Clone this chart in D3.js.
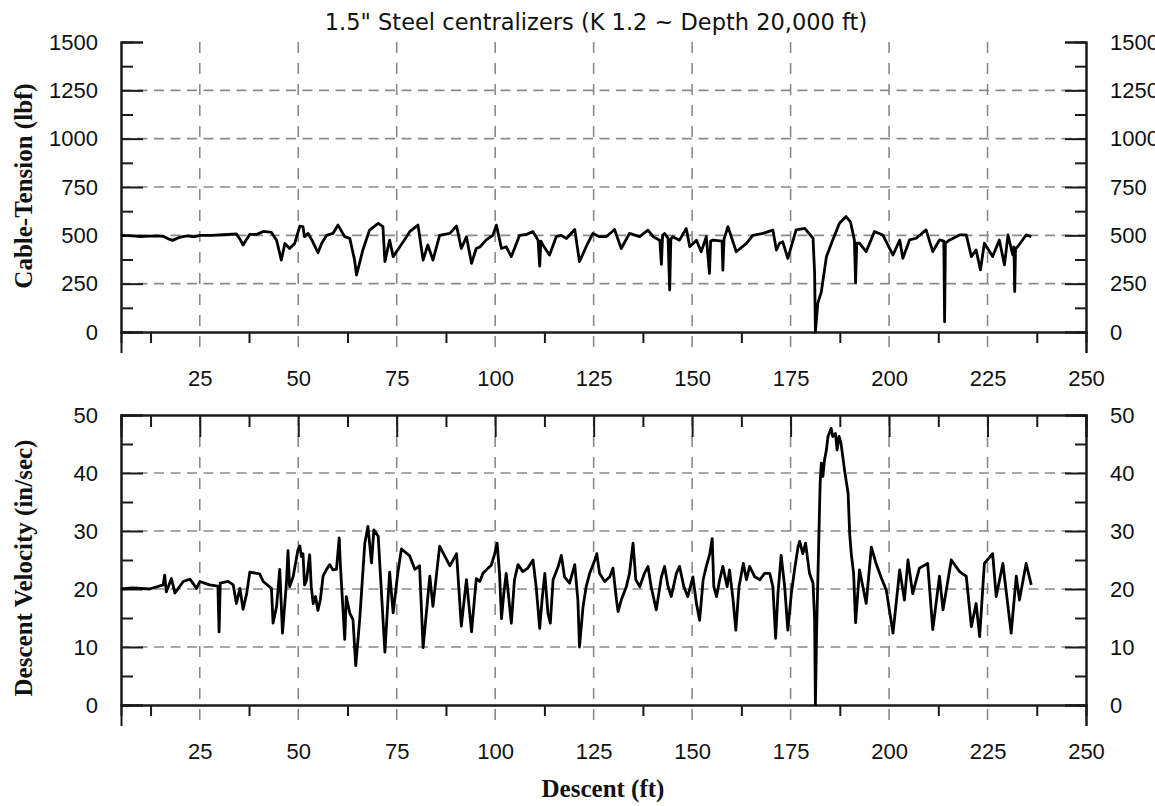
<!DOCTYPE html>
<html lang="en">
<head>
<meta charset="utf-8">
<script src="https://d3js.org/d3.v7.min.js"></script>
<style>
  body { margin: 0; background: #fff; }
  svg text { fill: #111; }
  .num { font-family: "Liberation Sans", Arial, sans-serif; font-size: 22px; }
  .atitle { font-family: "Liberation Serif", "Times New Roman", serif; font-weight: bold; font-size: 25px; }
  .title { font-family: "DejaVu Sans", Tahoma, sans-serif; font-size: 22.5px; }
</style>
</head>
<body>
<div id="chart"></div>
<script>
// axis ticks
var descentTicks = [25, 50, 75, 100, 125, 150, 175, 200, 225, 250];
var descentMinor = [12.5, 37.5, 62.5, 87.5, 112.5, 137.5, 162.5, 187.5, 212.5, 237.5];
var tensionTicks = [0, 250, 500, 750, 1000, 1250, 1500];
var tensionMinor = [125, 375, 625, 875, 1125, 1375];
var velocityTicks = [0, 10, 20, 30, 40, 50];
var velocityMinor = [5, 15, 25, 35, 45];

// [descent ft, cable tension lbf]
var tensionPoints = [[5,500],[8,497],[10,494],[12,496],[14,497],[15.7,495],[17,482],[18.1,474],[19.9,490],[21,495],[22,497],[23.5,492],[25,500],[28,500],[31,503],[34.3,507],[35.2,480],[36,450],[37.7,505],[39.5,505],[41.1,520],[43.2,515],[44.5,475],[45.7,372],[46.6,458],[47.8,432],[49.1,458],[50.4,548],[51.2,545],[51.6,493],[52.5,510],[53.6,470],[55,410],[56,460],[57.2,500],[58.8,510],[60.1,553],[61.8,493],[63.1,484],[64.3,372],[64.8,295],[66.4,424],[68.1,527],[70.3,562],[71.5,545],[72,364],[73.2,475],[74.1,390],[75.8,441],[77.5,493],[78.3,519],[80.4,553],[81.7,372],[82.9,450],[84.2,372],[85.9,500],[88.5,510],[90.2,548],[91.4,432],[92.7,493],[94,355],[95.2,432],[96.1,440],[97.8,478],[99.4,500],[100.3,553],[101.6,432],[102.8,441],[104.1,390],[106.2,500],[108,505],[109.6,519],[110.9,475],[111.3,341],[111.6,470],[112.1,450],[113.8,398],[115.5,493],[116.8,500],[118.1,484],[120.2,530],[121.4,364],[123.1,441],[124.8,510],[126.5,493],[128.2,493],[130.3,530],[132,432],[134.1,510],[136.7,493],[138.8,527],[140.1,493],[141.8,475],[142.2,350],[142.5,500],[143,510],[143.9,484],[144.3,217],[144.6,480],[145.1,493],[146.8,475],[148.5,536],[149.4,441],[151.1,475],[152.3,415],[153.6,493],[154.4,303],[154.7,470],[155.3,475],[157.6,470],[157.8,320],[158.1,480],[159.1,545],[161.2,415],[163.8,458],[165.4,500],[168,510],[170.5,527],[171.4,424],[172.2,459],[173,467],[174.3,381],[176.4,528],[178.6,536],[180.7,485],[181.1,303],[181.3,0],[181.9,148],[182.8,208],[184.1,390],[185.7,476],[187.4,562],[189.1,597],[190.2,570],[191.2,475],[191.5,255],[191.8,460],[192.5,459],[194.2,416],[196.3,519],[198.4,502],[201,398],[202.7,476],[203.5,381],[205.2,476],[206.9,485],[209.4,528],[211.1,416],[212.8,476],[213.9,470],[214.1,53],[214.3,460],[215.4,476],[217.9,502],[219.6,502],[220.9,390],[222.1,424],[223.2,321],[224.2,459],[226.3,390],[228,476],[229.3,347],[230.2,502],[231.4,398],[231.7,440],[231.9,209],[232.1,430],[232.7,442],[234.8,502],[236.1,493]];

// [descent ft, descent velocity in/sec]
var velocityPoints = [[5,20],[8,20.2],[12.3,20],[15.7,20.7],[16.1,22.4],[16.5,19.5],[17.8,21.8],[18.7,19.3],[20.8,21.3],[22.5,21.7],[24.2,20.1],[25,21.3],[27.5,20.7],[29.6,20.5],[29.9,12.6],[30.2,21],[32.2,21.3],[33.5,20.7],[34.3,17.5],[35.2,20.1],[36,16.5],[36.9,19.2],[37.7,22.9],[40.2,22.6],[41.1,21.3],[43.2,20.1],[43.6,14.1],[44.5,17],[45.3,23.4],[46,12.4],[47,21],[47.4,26.6],[47.8,20.4],[48.7,22.1],[49.9,26.7],[50.4,27.4],[50.8,25.6],[51.2,26.1],[51.6,20.7],[52.1,21.5],[52.9,25.9],[53.3,20.4],[53.8,17.5],[54.4,18.7],[55,16.3],[55.6,18.1],[56.3,22.2],[57.1,23.3],[58,24.2],[58.8,23.3],[59.7,23.4],[60.4,28.8],[60.7,24.1],[61.8,11.3],[62.2,18.7],[63.1,15.8],[63.9,14.7],[64.6,6.8],[65.6,14.7],[66.9,27.9],[67.7,30.8],[68.6,24.5],[69.2,30.2],[70.3,29.1],[72,9.1],[73.2,22.9],[74.1,15.9],[75.3,22.9],[76.2,26.9],[78.3,25.7],[79.6,23.4],[80.8,24],[81.7,9.9],[83.4,22.2],[84.2,17],[85.9,27.4],[88.5,24],[90.2,26.1],[91.4,13.6],[92.7,21.6],[94,12.6],[95.2,21.8],[96.1,21.3],[96.9,22.7],[98.2,23.6],[99,24.1],[99.9,26.1],[100.5,27.9],[101.1,22.7],[101.6,14.9],[102.2,19.3],[102.8,22.7],[103.5,18.1],[104.1,14.1],[104.9,21.6],[105.8,24.2],[107,23],[108.3,23.6],[109.6,25],[110.4,20.4],[111.3,13.2],[111.9,18.1],[112.6,22.7],[113.4,15.8],[114,14.1],[114.7,21.6],[116,23.9],[116.8,25.8],[117.6,22.1],[118.9,21],[120.2,24.2],[121,18.1],[121.4,10],[122.3,16.9],[123.1,20.4],[124,22.7],[125.3,25],[125.8,26.1],[126.5,22.7],[127.8,21.3],[129.1,22.1],[129.9,23.6],[130.8,18.1],[131.2,16.1],[132,18.1],[133.3,20.4],[134.1,22.7],[135,27.9],[135.7,21.6],[136.7,20.4],[137.9,22.7],[138.8,23.9],[139.6,20.4],[140.9,16.4],[142.2,22.1],[143,23.9],[143.9,20.4],[144.7,18.7],[146,22.7],[146.8,23.9],[147.9,20.4],[148.9,18.7],[150.2,22.1],[151.1,17.5],[151.9,14.6],[152.8,21.6],[153.6,23.9],[154.5,26.1],[155.1,28.7],[155.5,20.4],[156.2,18.7],[157,21.6],[157.8,23.9],[158.9,20.4],[159.5,23.3],[160.4,18.1],[161.1,12.9],[161.9,20.4],[163,24.4],[163.8,21.6],[164.6,23.9],[165.9,22.1],[167.2,21.6],[168.4,22.7],[169.7,22.7],[170.5,20.4],[171.2,11.5],[171.8,19.3],[172.6,25.8],[173.5,20.4],[174.3,12.9],[175.2,19.3],[176,23.3],[176.9,27.3],[177.3,28.2],[178.1,26.1],[178.8,27.9],[179.8,22.7],[180.7,21],[181.1,14.7],[181.3,0],[181.6,12.4],[182.2,29.6],[182.5,38.2],[182.8,41.7],[183.2,39.4],[183.6,42.2],[184.1,44],[184.5,46.3],[185.3,47.7],[185.7,46.3],[186.4,46.8],[186.8,44],[187.3,46.3],[187.8,45.1],[188.7,40.5],[189.6,36.5],[190,29.6],[190.4,26.1],[191,22.7],[191.5,14.2],[192.5,23.3],[194.2,17.5],[195.5,27.2],[196.7,24.4],[198,22],[199.3,19.8],[201,12.4],[202.7,23.3],[203.9,18.1],[204.8,25],[206,19.2],[207.7,23.6],[209.8,24.4],[211.1,13],[212.8,22.2],[213.7,16.4],[215.8,25],[217.9,23],[219.6,22.2],[220.9,13.5],[222.1,17.5],[223,11.8],[224.2,24.4],[226.3,26.1],[227.2,18.7],[228.9,24.4],[231,12.4],[232.3,22.2],[233.1,18.1],[234.8,24.4],[236.1,20.7]];

var width = 1155, height = 806;
var svg = d3.select("#chart").append("svg")
    .attr("width", width).attr("height", height);

var x = d3.scaleLinear().domain([5, 250]).range([121, 1086]);
var yT = d3.scaleLinear().domain([0, 1500]).range([332, 42]);
var yV = d3.scaleLinear().domain([0, 50]).range([705, 415]);

var gridColor = "#8a8a8a", axisColor = "#1a1a1a";

function drawPanel(y, ticks, minorY, data, topBorder) {
  var g = svg.append("g");
  var y0 = y.range()[0], y1 = y.range()[1];
  var xl = x.range()[0], xr = x.range()[1];

  // dashed grid
  g.selectAll(".hg").data(ticks.slice(1, -1)).enter().append("line")
    .attr("x1", xl).attr("x2", xr)
    .attr("y1", function(d) { return y(d); }).attr("y2", function(d) { return y(d); })
    .attr("stroke", gridColor).attr("stroke-width", 1.6).attr("stroke-dasharray", "10,6.5");
  g.selectAll(".vg").data(descentTicks.slice(0, -1)).enter().append("line")
    .attr("x1", function(d) { return x(d); }).attr("x2", function(d) { return x(d); })
    .attr("y1", y1).attr("y2", y0 + 21)
    .attr("stroke", gridColor).attr("stroke-width", 1.6).attr("stroke-dasharray", "11,10");

  // bottom axis (outward ticks)
  g.append("g").attr("transform", "translate(0," + y0 + ")")
    .call(d3.axisBottom(x).tickValues(descentMinor).tickSize(11).tickFormat(""));
  g.append("g").attr("transform", "translate(0," + y0 + ")")
    .call(d3.axisBottom(x).tickValues([250]).tickSize(21).tickFormat(""));
  g.append("g").attr("class", "num").attr("transform", "translate(0," + y0 + ")")
    .call(d3.axisBottom(x).tickValues(descentTicks).tickSize(0).tickPadding(38).tickFormat(d3.format("d")));

  // top border with inward ticks
  if (topBorder) {
    g.append("g").attr("transform", "translate(0," + y1 + ")")
      .call(d3.axisTop(x).tickValues(descentMinor).tickSize(-12).tickFormat(""));
    g.append("g").attr("transform", "translate(0," + y1 + ")")
      .call(d3.axisTop(x).tickValues(descentTicks).tickSize(-22).tickFormat(""));
  }

  // left axis, inward ticks
  g.append("g").attr("transform", "translate(" + xl + ",0)")
    .call(d3.axisLeft(y).tickValues(ticks).tickSize(-22).tickFormat(""));
  g.append("g").attr("transform", "translate(" + xl + ",0)")
    .call(d3.axisLeft(y).tickValues(minorY).tickSize(-12).tickFormat(""));
  g.append("g").attr("class", "num").attr("transform", "translate(" + xl + ",0)")
    .call(d3.axisLeft(y).tickValues(ticks).tickSize(0).tickPadding(23).tickFormat(d3.format("d")));

  // right axis, inward ticks
  g.append("g").attr("transform", "translate(" + xr + ",0)")
    .call(d3.axisRight(y).tickValues(ticks).tickSize(-21).tickFormat(""));
  g.append("g").attr("transform", "translate(" + xr + ",0)")
    .call(d3.axisRight(y).tickValues(minorY).tickSize(-11).tickFormat(""));
  g.append("g").attr("class", "num").attr("transform", "translate(" + xr + ",0)")
    .call(d3.axisRight(y).tickValues(ticks).tickSize(0).tickPadding(24).tickFormat(d3.format("d")));

  // series
  var line = d3.line().x(function(d) { return x(d[0]); }).y(function(d) { return y(d[1]); });
  g.append("path").datum(data).attr("d", line)
    .attr("fill", "none").attr("stroke", "#000").attr("stroke-width", 2.8)
    .attr("stroke-linejoin", "round");
}

drawPanel(yT, tensionTicks, tensionMinor, tensionPoints, false);
drawPanel(yV, velocityTicks, velocityMinor, velocityPoints, true);

// axis styling
svg.selectAll(".domain").attr("stroke", axisColor).attr("stroke-width", 2);
svg.selectAll(".tick line").attr("stroke", axisColor).attr("stroke-width", 2);
svg.selectAll(".num text").attr("font-family", null).attr("font-size", null);
svg.selectAll(".num .domain").remove();

// titles
svg.append("text").attr("class", "title").attr("x", 596).attr("y", 30)
  .attr("text-anchor", "middle")
  .text("1.5\" Steel centralizers (K 1.2 ~ Depth 20,000 ft)");
svg.append("text").attr("class", "atitle").attr("text-anchor", "middle")
  .attr("transform", "translate(32,186) rotate(-90)").text("Cable-Tension (lbf)");
svg.append("text").attr("class", "atitle").attr("text-anchor", "middle")
  .attr("transform", "translate(32,568) rotate(-90)").text("Descent Velocity (in/sec)");
svg.append("text").attr("class", "atitle").attr("x", 603).attr("y", 797)
  .attr("text-anchor", "middle").text("Descent (ft)");
</script>
</body>
</html>
